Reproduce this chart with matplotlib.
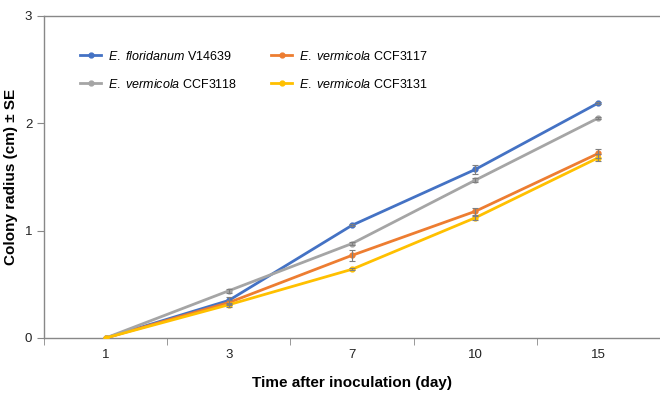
import numpy as np
import matplotlib
matplotlib.use("Agg")
from matplotlib import pyplot as plt

days = ['1', '3', '7', '10', '15']

flor_v14639 = [0.0, 0.35, 1.05, 1.57, 2.19]
flor_v14639_se = [0.0, 0.03, 0.01, 0.04, 0.01]
verm_ccf3117 = [0.0, 0.33, 0.77, 1.18, 1.72]
verm_ccf3117_se = [0.0, 0.02, 0.05, 0.03, 0.04]
verm_ccf3118 = [0.0, 0.44, 0.88, 1.47, 2.05]
verm_ccf3118_se = [0.0, 0.02, 0.01, 0.02, 0.01]
verm_ccf3131 = [0.0, 0.31, 0.64, 1.12, 1.68]
verm_ccf3131_se = [0.0, 0.02, 0.01, 0.02, 0.03]

plt.rcParams['font.family'] = ['Liberation Sans', 'DejaVu Sans']
plt.rcParams['mathtext.fontset'] = 'custom'
plt.rcParams['mathtext.it'] = 'Liberation Sans:italic'
plt.rcParams['mathtext.rm'] = 'Liberation Sans'

fig = plt.figure(figsize=(6.6, 3.95), dpi=100)
ax = fig.add_axes([44 / 660, 57 / 395, 616 / 660, 322 / 395])

x = np.arange(len(days))
series = [
    (flor_v14639, flor_v14639_se, '#4472C4', 'floridanum', 'V14639'),
    (verm_ccf3117, verm_ccf3117_se, '#ED7D31', 'vermicola', 'CCF3117'),
    (verm_ccf3118, verm_ccf3118_se, '#A5A5A5', 'vermicola', 'CCF3118'),
    (verm_ccf3131, verm_ccf3131_se, '#FFC000', 'vermicola', 'CCF3131'),
]
for vals, se, col, sp, strain in series:
    ax.plot(x, vals, color=col, lw=2, marker='o', ms=3.5, zorder=3,
            label=r'$\it{E.}$ $\it{%s}$ %s' % (sp, strain))
    # skip zero-SE points so no flat caps show
    m = np.array(se) > 0
    ax.errorbar(x[m], np.array(vals)[m], yerr=np.array(se)[m], fmt='none',
                ecolor='#7f7f7f', elinewidth=0.8, capsize=2, capthick=0.8,
                zorder=4)

ax.set_xlim(-0.5, len(days) - 0.5)
ax.set_ylim(0, 3)
ax.set_yticks([0, 1, 2, 3])
ax.set_xticks(x)
ax.set_xticklabels(days)
ax.set_xticks(np.arange(-0.5, len(days)), minor=True)
ax.tick_params(axis='x', which='major', length=0, pad=8, labelsize=9.5, colors='#222222')
ax.tick_params(axis='x', which='minor', length=5, direction='out', color='#888888')
ax.tick_params(axis='y', length=5, color='#888888', labelsize=9.5, labelcolor='#222222')

for s in ['left', 'bottom', 'top']:
    ax.spines[s].set_color('#888888')
    ax.spines[s].set_linewidth(1)
ax.spines['right'].set_visible(False)

ax.set_xlabel('Time after inoculation (day)', fontsize=11, fontweight='bold', labelpad=11)
ax.set_ylabel('Colony radius (cm) \u00b1 SE', fontsize=11, fontweight='bold', labelpad=5)

handles, labels = ax.get_legend_handles_labels()
order = [0, 2, 1, 3]
leg = ax.legend([handles[i] for i in order], [labels[i] for i in order],
                ncol=2, frameon=False, loc='upper left', bbox_to_anchor=(0.04, 0.93),
                fontsize=9, handlelength=1.7, handletextpad=0.55,
                columnspacing=2.7, labelspacing=1.2)

fig.savefig('out.png', dpi=100)
